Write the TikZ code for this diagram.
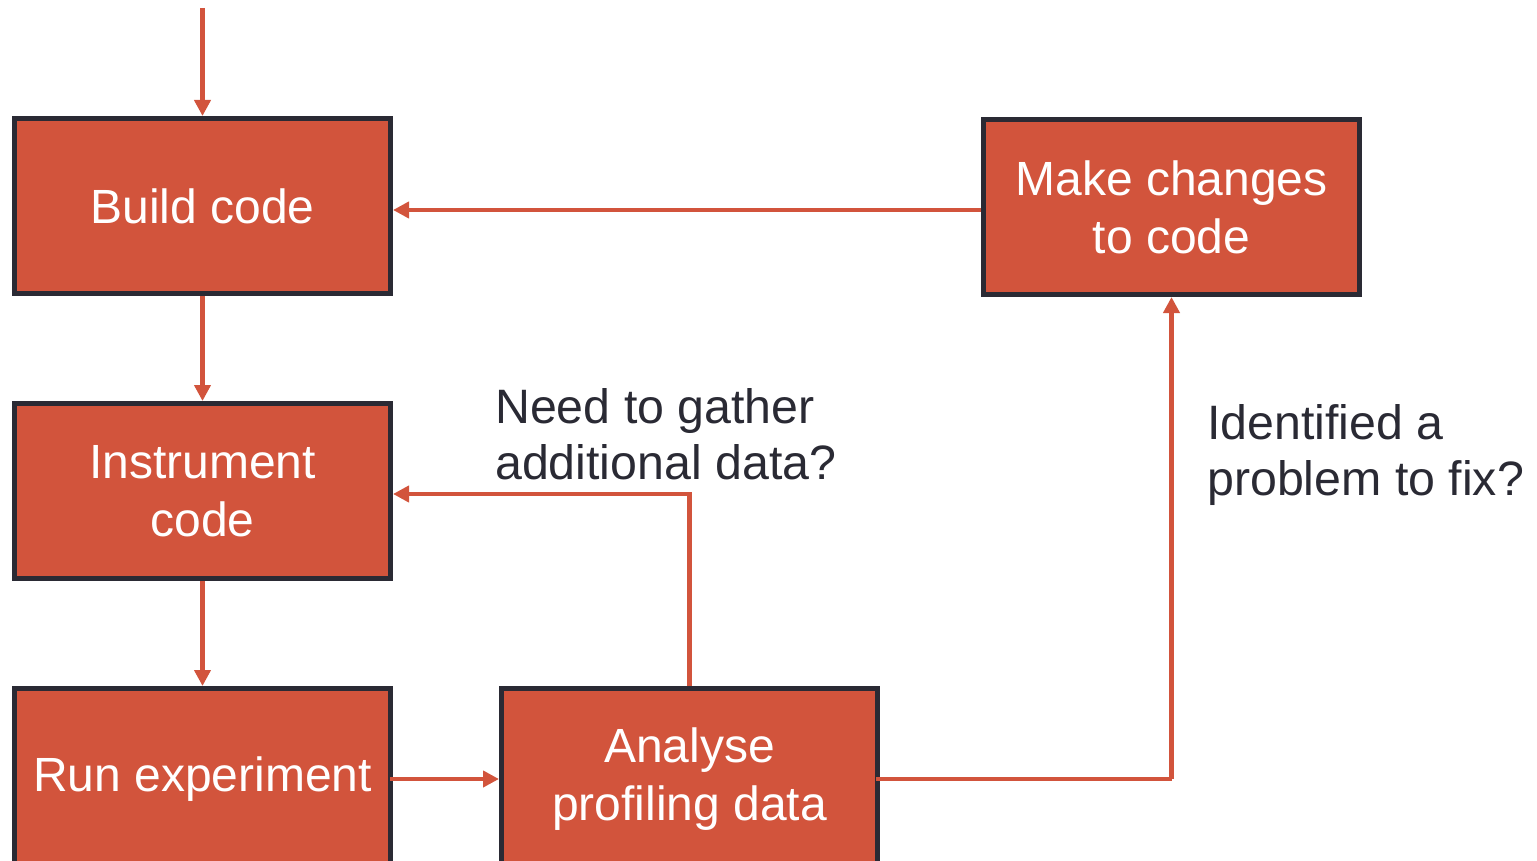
\documentclass[tikz,border=0pt]{standalone}
\usepackage{fontspec}
\setmainfont{Liberation Sans}
\usetikzlibrary{arrows.meta}

\definecolor{accent}{RGB}{210,84,60}
\definecolor{ink}{RGB}{42,42,52}

\tikzset{
  stepbox/.style={draw=ink, line width=5pt, fill=accent, text=white,
    minimum width=376pt, minimum height=175pt, inner sep=0pt,
    align=center, font=\fontsize{48}{58}\selectfont},
  lowbox/.style={stepbox, minimum height=181pt},
  flow/.style={draw=accent, line width=4.8pt,
    -{Triangle[length=16pt,width=16pt]}},
  link/.style={draw=accent, line width=4.8pt},
  note/.style={text=ink, inner sep=0pt, align=left,
    font=\fontsize{48.3}{56}\selectfont}
}

\begin{document}
\begin{tikzpicture}[x=1pt,y=-1pt]
  \useasboundingbox (0,0) rectangle (1537,861);

  % process steps
  \node[stepbox] (build)   at (202.5,206) {Build code};
  \node[stepbox] (instr)   at (202.5,491) {Instrument\\code};
  \node[lowbox]  (run)     at (202.5,779) {Run experiment};
  \node[lowbox]  (analyse) at (689.5,779) {Analyse\\profiling data};
  \node[stepbox] (change)  at (1171.5,207) {Make changes\\to code};

  % decision questions
  \node[note, anchor=west] (gather) at (495,434)
    {Need to gather\\additional data?};
  \node[note, anchor=west] (fix) at (1207,455)
    {Identified a\\problem to fix?};

  % entry point
  \coordinate (start) at (202.5,8);
  \draw[flow] (start) -- (build.north);

  % main chain
  \draw[flow] (build.south) -- (instr.north);
  \draw[flow] (instr.south) -- (run.north);
  \draw[flow] ([xshift=-3pt]run.east) -- (analyse.west);

  % loop back for more data
  \draw[flow] (analyse.north) |- ([yshift=-3pt]instr.east);

  % loop for fixing a problem
  \coordinate (turn) at (change.south |- analyse.east);
  \draw[link] ([xshift=-4pt]analyse.east) -- (turn);
  \draw[flow] (turn) -- (change.south);
  \draw[flow] ([yshift=-3pt]change.west) -- ([yshift=-4pt]build.east);
\end{tikzpicture}
\end{document}
